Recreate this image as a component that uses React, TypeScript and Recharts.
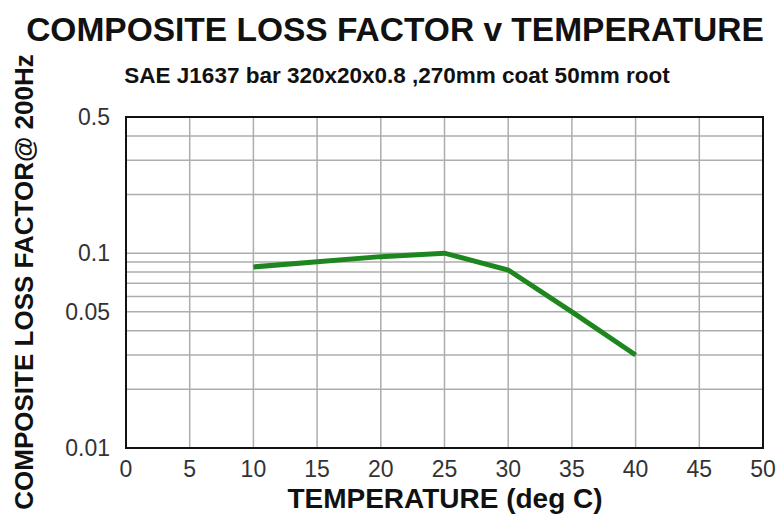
import React from "react";
import {
  LineChart,
  Line,
  XAxis,
  YAxis,
  CartesianGrid,
  ReferenceArea,
} from "recharts";

// temperature (deg C) vs composite loss factor @ 200Hz
const temperatures = [10, 20, 25, 30, 35, 40];
const lossFactors = [0.085, 0.096, 0.1, 0.082, 0.05, 0.03];

const xTicks = [0, 5, 10, 15, 20, 25, 30, 35, 40, 45, 50];
const yTicks = [0.01, 0.05, 0.1, 0.5];
const yGrid = [0.02, 0.03, 0.04, 0.05, 0.06, 0.07, 0.08, 0.09, 0.1, 0.2, 0.3, 0.4];
const xGrid = [5, 10, 15, 20, 25, 30, 35, 40, 45];

const data = temperatures.map((t, i) => ({ temp: t, loss: lossFactors[i] }));

const FONT = "'Liberation Sans', Arial, sans-serif";

const App: React.FC = () => {
  return (
    <div
      style={{
        position: "absolute",
        left: 0,
        top: 0,
        width: 780,
        height: 517,
        background: "#fff",
        fontFamily: FONT,
      }}
    >
      <div
        style={{
          position: "absolute",
          left: 0,
          width: 790,
          top: 12,
          textAlign: "center",
          fontWeight: "bold",
          fontSize: 33.5,
          color: "#111",
          lineHeight: "36px",
        }}
      >
        COMPOSITE LOSS FACTOR v TEMPERATURE
      </div>
      <div
        style={{
          position: "absolute",
          left: 0,
          width: 794,
          top: 64,
          textAlign: "center",
          fontWeight: "bold",
          fontSize: 22.5,
          color: "#111",
          lineHeight: "24px",
        }}
      >
        SAE J1637 bar 320x20x0.8 ,270mm coat 50mm root
      </div>

      <LineChart
        width={780}
        height={517}
        data={data}
        margin={{ top: 117, right: 17, bottom: 0, left: 0 }}
      >
        <CartesianGrid
          stroke="#adadad"
          strokeWidth={1.5}
          horizontalValues={yGrid}
          verticalValues={xGrid}
        />
        <XAxis
          dataKey="temp"
          type="number"
          domain={[0, 50]}
          ticks={xTicks}
          height={69}
          axisLine={false}
          tickLine={false}
          tickSize={0}
          tickMargin={13}
          interval={0}
          tick={{ fill: "#333", fontSize: 23, fontFamily: FONT }}
        />
        <YAxis
          dataKey="loss"
          type="number"
          scale="log"
          domain={[0.01, 0.5]}
          ticks={yTicks}
          allowDataOverflow
          width={126}
          axisLine={false}
          tickLine={false}
          tickSize={0}
          tickMargin={16}
          interval={0}
          tick={{ fill: "#333", fontSize: 23, fontFamily: FONT }}
        />
        <ReferenceArea
          x1={0}
          x2={50}
          y1={0.01}
          y2={0.5}
          fill="none"
          stroke="#111"
          strokeWidth={2}
          ifOverflow="visible"
        />
        <Line
          type="linear"
          dataKey="loss"
          stroke="#1e861e"
          strokeWidth={5}
          dot={false}
          isAnimationActive={false}
        />
      </LineChart>

      <div
        style={{
          position: "absolute",
          left: 0,
          width: 890,
          top: 484,
          textAlign: "center",
          fontWeight: "bold",
          fontSize: 28,
          color: "#111",
          lineHeight: "30px",
        }}
      >
        TEMPERATURE (deg C)
      </div>
      <div
        style={{
          position: "absolute",
          left: 24 - 250,
          top: 282 - 15,
          width: 500,
          height: 30,
          lineHeight: "30px",
          textAlign: "center",
          fontWeight: "bold",
          fontSize: 26,
          color: "#111",
          transform: "rotate(-90deg)",
          whiteSpace: "nowrap",
        }}
      >
        COMPOSITE LOSS FACTOR@ 200Hz
      </div>
    </div>
  );
};

export default App;
